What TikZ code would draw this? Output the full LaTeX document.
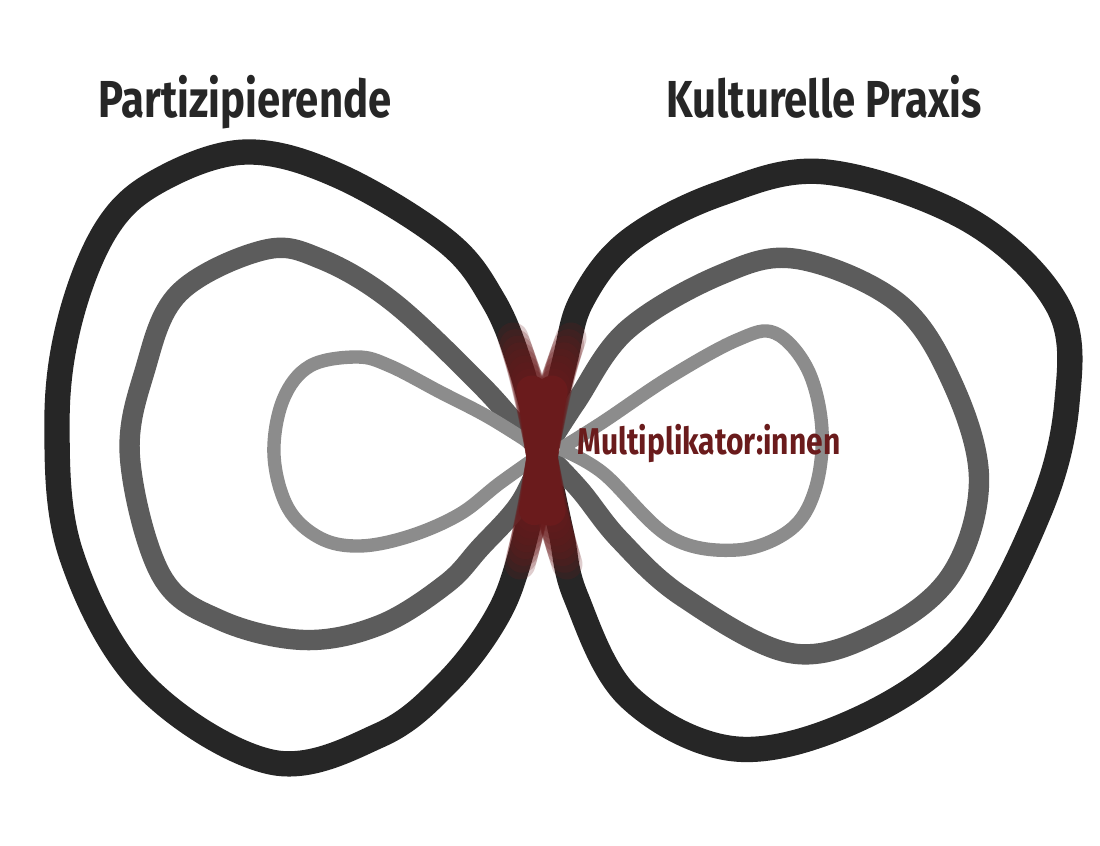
\documentclass[tikz,border=0pt]{standalone}
\usepackage{fontspec}
\usepackage{tikz}
\usetikzlibrary{calc}
\newfontfamily\titlefont[FakeStretch=0.805]{Fira Sans}
\definecolor{loopdark}{HTML}{262626}
\definecolor{loopmid}{HTML}{5C5C5C}
\definecolor{looplight}{HTML}{8C8C8C}
\definecolor{multired}{HTML}{6A1B1C}
\tikzset{
  outerloop/.style = {draw=loopdark, line width=7.2pt, line join=round},
  middleloop/.style = {draw=loopmid, line width=5.8pt, line join=round},
  innerloop/.style = {draw=looplight, line width=3.8pt, line join=round},
  redstroke/.style = {draw=multired, line width=8.8pt, line cap=round},
  title/.style = {font=\titlefont\bfseries\fontsize{14.8}{17}\selectfont, text=loopdark, inner sep=0pt, anchor=base}
}

\begin{document}
\begin{tikzpicture}[x=0.01cm, y=-0.01cm]
\useasboundingbox[fill=white] (0,0) rectangle (1100,846);
\coordinate (mid) at (544,452);
% left: Partizipierende
\draw[outerloop] plot[smooth, tension=0.6] coordinates {(544,452) (520,365) (493,300) (446,241) (339,176)
  (246,152) (160,180) (107,228) (70,320) (57,424) (71,554) (143,684) (271,762) (380,735) (446,684)
  (495,620) (520,557) (544,452)};
\draw[middleloop] plot[smooth, tension=0.6] coordinates {(544,452) (523,432) (480,384) (393,302) (321,259)
  (264,250) (179,293) (145,370) (130,458) (161,575) (220,620) (304,640) (380,625) (446,584)
  (480,548) (520,503) (544,452)};
\draw[innerloop] plot[smooth, tension=0.6] coordinates {(544,452) (490,418) (440,392) (390,366) (357,357)
  (310,366) (283,400) (274,455) (288,508) (320,538) (360,546) (410,536) (460,514) (500,483) (544,452)};
% right: Kulturelle Praxis
\draw[outerloop] plot[smooth, tension=0.6] coordinates {(544,452) (561,532) (576,597) (629,697) (736,749)
  (861,718) (969,640) (1040,510) (1067,402) (1058,306) (969,220) (826,172) (719,194) (629,241)
  (582,300) (565,360) (544,452)};
\draw[middleloop] plot[smooth, tension=0.6] coordinates {(544,452) (576,402) (627,330) (720,275) (797,259)
  (897,302) (951,380) (979,480) (951,575) (879,632) (790,653) (683,597) (620,540) (580,490) (544,452)};
\draw[innerloop] plot[smooth, tension=0.6] coordinates {(560,449) (603,422) (670,377) (737,340) (775,333)
  (808,370) (822,430) (815,490) (790,530) (737,550) (670,537) (603,473) (560,449)};
% red cross, soft ends
\coordinate (ra) at (513,338);
\coordinate (rb) at (567,564);
\coordinate (rc) at (571,338);
\coordinate (rd) at (520,564);
\foreach \s in {0,2,...,14} {
  \draw[redstroke, opacity=0.22, shorten <=\s, shorten >=\s] (ra) .. controls (535,400) and (547,500) .. (rb);
  \draw[redstroke, opacity=0.22, shorten <=\s, shorten >=\s] (rc) .. controls (549,400) and (537,500) .. (rd);
}
\draw[redstroke, shorten <=16, shorten >=16] (ra) .. controls (535,400) and (547,500) .. (rb);
\draw[redstroke, shorten <=16, shorten >=16] (rc) .. controls (549,400) and (537,500) .. (rd);
% labels
\node[title] (part) at (245,118) {Partizipierende};
\node[title] (kult) at (824,118) {Kulturelle Praxis};
\node[font=\titlefont\bfseries\fontsize{10.6}{12}\selectfont, text=multired, inner sep=0pt, anchor=base west]
  (multi) at (577,455) {Multiplikator:innen};
\end{tikzpicture}
\end{document}
